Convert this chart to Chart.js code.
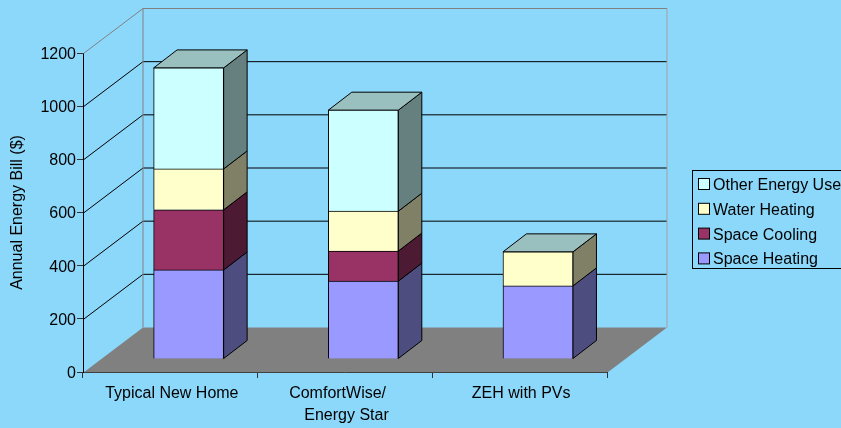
<!DOCTYPE html>
<html>
<head>
<meta charset="utf-8">
<script src="https://cdn.jsdelivr.net/npm/chart.js@4"></script>
<style>
  html, body { margin: 0; padding: 0; background: #8cd8fa; overflow: hidden; }
  canvas { display: block; }
</style>
</head>
<body>
<canvas id="energyChart" width="841" height="428"></canvas>
<script>
// trailing spaces: the first line sits left of centre in the original
const categories = ['Typical New Home', ['ComfortWise/    ', 'Energy Star'], 'ZEH with PVs'];
const seriesNames = ['Space Heating', 'Space Cooling', 'Water Heating', 'Other Energy Use'];
const spaceHeating = [335, 293, 275];
const spaceCooling = [226, 113, 0];
const waterHeating = [154, 150, 128];
const otherEnergy = [380, 380, 0];
const seriesValues = [spaceHeating, spaceCooling, waterHeating, otherEnergy];

const frontColors = ['#9999ff', '#993366', '#ffffcc', '#ccffff'];
const sideColors = ['#4d4d80', '#4d1a33', '#808066', '#668080'];
const topColor = '#99bfbf';
const FONT = '16px "Liberation Sans", Arial, sans-serif';

// 3D look: the walls sit back by this much, the bars about a third of the way in
const wallDx = 59.5, wallDy = -45;
const barDx = 18.3, barDy = -13;
const sideDx = 23.5, sideDy = -18;

function poly(ctx, pts, fill, stroke) {
    ctx.beginPath();
    pts.forEach((p, i) => i ? ctx.lineTo(p[0], p[1]) : ctx.moveTo(p[0], p[1]));
    ctx.closePath();
    if (fill) { ctx.fillStyle = fill; ctx.fill(); }
    if (stroke) { ctx.strokeStyle = stroke; ctx.lineWidth = 1; ctx.stroke(); }
}

function line(ctx, pts, color) {
    ctx.beginPath();
    pts.forEach((p, i) => i ? ctx.lineTo(p[0], p[1]) : ctx.moveTo(p[0], p[1]));
    ctx.strokeStyle = color;
    ctx.lineWidth = 1;
    ctx.stroke();
}

const threeD = {
    id: 'threeD',
    beforeDatasetsDraw(chart) {
        const ctx = chart.ctx, y = chart.scales.y, a = chart.chartArea;
        const l = a.left + 0.5, r = a.right + 0.5, b = y.getPixelForValue(0) + 0.5;

        // floor
        poly(ctx, [[l, b], [r, b], [r + wallDx, b + wallDy], [l + wallDx, b + wallDy]], '#808080');

        // gridlines, running up the side wall and along the back wall
        y.ticks.forEach(t => {
            if (t.value === 0) return;
            const py = y.getPixelForValue(t.value) + 0.5;
            const c = t.value === y.max ? '#808080' : '#000000';
            line(ctx, [[l, py], [l + wallDx, py + wallDy], [r + wallDx, py + wallDy]], c);
        });
        const wallTop = y.getPixelForValue(y.max) + 0.5 + wallDy;
        line(ctx, [[l + wallDx, wallTop], [l + wallDx, b + wallDy]], '#808080');
        line(ctx, [[r + wallDx, wallTop], [r + wallDx, b + wallDy]], '#a0a0a0');

        // side and top faces of the bars, from the positions of the library's bars
        categories.forEach((c, i) => {
            let topBar = null;
            seriesValues.forEach((vals, s) => {
                const bar = chart.getDatasetMeta(s).data[i];
                if (!vals[i]) return;
                const x = bar.x + bar.width / 2 + barDx, t = bar.y + barDy, bt = bar.base + barDy;
                poly(ctx, [[x, t], [x + sideDx, t + sideDy], [x + sideDx, bt + sideDy], [x, bt]], sideColors[s], '#000000');
                topBar = bar;
            });
            const x0 = topBar.x - topBar.width / 2 + barDx, x1 = x0 + topBar.width, t = topBar.y + barDy;
            poly(ctx, [[x0, t], [x1, t], [x1 + sideDx, t + sideDy], [x0 + sideDx, t + sideDy]], topColor, '#000000');
        });

        ctx.save();
        ctx.translate(barDx, barDy);
    },
    afterDatasetsDraw(chart) {
        chart.ctx.restore();
    },
    afterDraw(chart) {
        // legend box runs off the right edge of the picture
        const ctx = chart.ctx;
        ctx.save();
        ctx.strokeStyle = '#000000';
        ctx.lineWidth = 1;
        ctx.strokeRect(692.5, 170.5, 170, 98);
        ctx.font = FONT;
        ctx.textBaseline = 'middle';
        seriesNames.slice().reverse().forEach((name, i) => {
            const cy = 184 + i * 24.8;
            ctx.fillStyle = frontColors[3 - i];
            ctx.fillRect(698.5, cy - 5.5, 11, 11);
            ctx.strokeRect(698.5, cy - 5.5, 11, 11);
            ctx.fillStyle = '#000000';
            ctx.fillText(name, 713, cy + 1.5);
        });
        ctx.restore();
    }
};

new Chart(document.getElementById('energyChart'), {
    type: 'bar',
    data: {
        labels: categories,
        datasets: seriesNames.map((name, s) => ({
            label: name,
            data: seriesValues[s],
            backgroundColor: frontColors[s],
            borderColor: '#000000',
            borderWidth: 1,
            barThickness: 70,
            clip: false
        }))
    },
    options: {
        responsive: false,
        animation: false,
        layout: { padding: { left: 0, top: 53, right: 234, bottom: 0 } },
        plugins: { legend: { display: false }, tooltip: { enabled: false } },
        scales: {
            x: {
                stacked: true,
                afterFit: s => { s.height = 56; },
                border: { color: '#000000', width: 1 },
                grid: { drawOnChartArea: false, tickLength: 6, color: '#333333' },
                ticks: {
                    color: '#000000',
                    font: { family: '"Liberation Sans", Arial, sans-serif', size: 16, lineHeight: 1.375 },
                    maxRotation: 0,
                    autoSkip: false,
                    padding: 5,
                    labelOffset: 1.5
                }
            },
            y: {
                stacked: true,
                min: 0,
                max: 1200,
                afterFit: s => { s.width = 83; },
                border: { color: '#000000', width: 1 },
                grid: { drawOnChartArea: false, tickLength: 6, color: '#333333' },
                ticks: {
                    stepSize: 200,
                    color: '#000000',
                    font: { family: '"Liberation Sans", Arial, sans-serif', size: 16 },
                    padding: 1,
                    labelOffset: 1.5,
                    callback: v => String(v)
                },
                title: {
                    display: true,
                    text: 'Annual Energy Bill ($)',
                    color: '#000000',
                    font: { family: '"Liberation Sans", Arial, sans-serif', size: 16 },
                    padding: { top: 8, bottom: 0 }
                }
            }
        }
    },
    plugins: [threeD]
});
</script>
</body>
</html>
